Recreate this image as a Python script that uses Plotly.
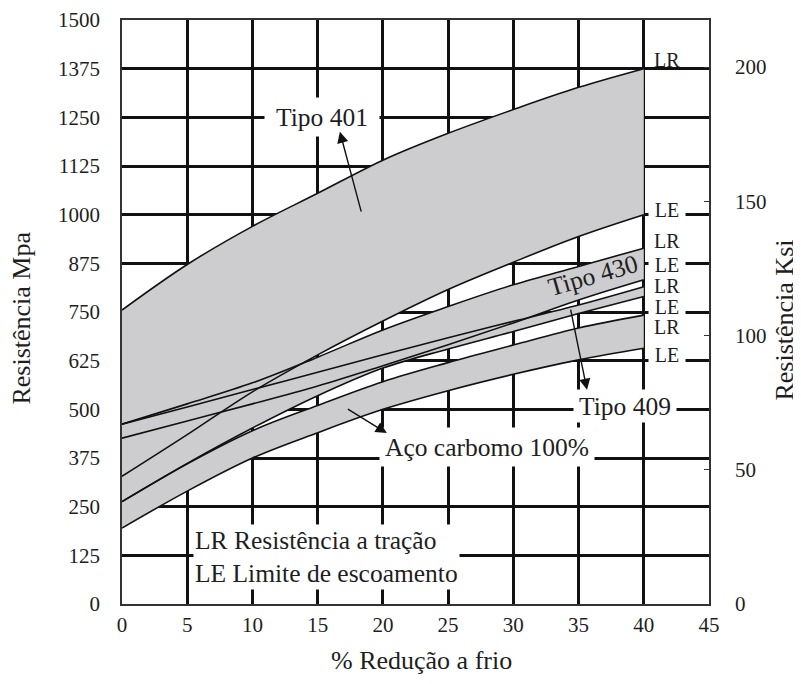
import plotly.graph_objects as go

# ---------------- data ----------------
reducao = [0, 5, 10, 15, 20, 25, 30, 35, 40]          # % redução a frio
t401_lr = [755, 872, 970, 1055, 1140, 1209, 1270, 1327, 1375]
t401_le = [328, 435, 545, 640, 727, 808, 878, 944, 1000]
t430_lr = [462, 514, 568, 634, 704, 764, 820, 867, 914]
t430_le = [426, 470, 514, 560, 612, 666, 722, 781, 833]
t409_lr = [462, 506, 551, 595, 640, 684, 726, 768, 815]
t409_le = [263, 361, 452, 535, 606, 655, 700, 746, 790]
aco_lr = [263, 360, 445, 510, 571, 620, 665, 709, 742]
aco_le = [195, 290, 375, 440, 500, 548, 590, 627, 657]

x_ticks = [0, 5, 10, 15, 20, 25, 30, 35, 40, 45]
y_ticks = [0, 125, 250, 375, 500, 625, 750, 875, 1000, 1125, 1250, 1375, 1500]
ksi_ticks = [0, 50, 100, 150, 200]
MPA_PER_KSI = 6.895

bands = [(t401_le, t401_lr), (t430_le, t430_lr), (t409_le, t409_lr), (aco_le, aco_lr)]
# (text, MPa position, white background?)
end_labels = [("LR", 1397, False), ("LE", 1012, True), ("LR", 932, False), ("LE", 873, True),
              ("LR", 816, False), ("LE", 764, True), ("LR", 712, False), ("LE", 641, True)]

FONT = "'Liberation Serif', 'Times New Roman', serif"
GRAY = "#cdcdcf"
TXT = "#1e1e1e"

fig = go.Figure()

# gray bands (fill between LE and LR)
for le, lr in bands:
    fig.add_trace(go.Scatter(x=reducao, y=le, mode="lines", line=dict(width=0, shape="spline"),
                             hoverinfo="skip", showlegend=False))
    fig.add_trace(go.Scatter(x=reducao, y=lr, mode="lines", line=dict(width=0, shape="spline"),
                             fill="tonexty", fillcolor=GRAY, hoverinfo="skip", showlegend=False))

# boundary curves on top
for ys in [t401_lr, t401_le, t430_lr, t430_le, t409_lr, t409_le, aco_lr, aco_le]:
    fig.add_trace(go.Scatter(x=reducao, y=ys, mode="lines",
                             line=dict(color="#111111", width=1.6, shape="spline"),
                             hoverinfo="skip", showlegend=False))

# invisible trace for the ksi axis
fig.add_trace(go.Scatter(x=[0], y=[0], yaxis="y2", mode="markers",
                         marker=dict(opacity=0), hoverinfo="skip", showlegend=False))

ann = []
def label(text, x, y, size=25.5, bg=None, **kw):
    d = dict(text=text, x=x, y=y, xref="x", yref="y", showarrow=False,
             xanchor="center", yanchor="middle",
             font=dict(family=FONT, size=size, color=TXT))
    if bg:
        d.update(bgcolor=bg)
    d.update(kw)
    ann.append(d)

def arrow(x0, y0, x1, y1):
    ann.append(dict(text="", x=x1, y=y1, ax=x0, ay=y0, xref="x", yref="y", axref="x", ayref="y",
                    showarrow=True, arrowhead=2, arrowsize=1.6, arrowwidth=1.4, arrowcolor="#111111"))

label("Tipo 401", 15.33, 1251, bg="white", width=112, height=36)
arrow(18.37, 1004, 16.7, 1213)
label("Tipo 430", 36.1, 845, textangle=-16)
label("Tipo 409", 38.55, 508, bg="white", width=100, height=30)
arrow(34.37, 760, 35.65, 550)
label("Aço carbomo 100%", 28.0, 404, bg="white", width=212, height=36)
arrow(17.2, 503, 20.3, 439)
label("LR Resistência a tração<br>LE Limite de escoamento", 5.45, 121,
      bg="white", xanchor="left", align="left")
for t, yv, bgw in end_labels:
    if bgw:
        label(t, 41.75, yv, size=20, bg="white", width=34, height=15)
    else:
        label(t, 41.75, yv, size=20)

# plot-area corners in window pixels (page body has an 8px margin)
L, R, T, B = 122.3, 709.3, 20, 604.3
OFF = 8
W, H = 801 - OFF, 684 - OFF

def px2paper(px, py):
    return (px - L) / (R - L), (B - py) / (B - T)

for text, px, py, ang in [("% Redução a frio", 421.5, 661, 0),
                          ("Resistência Mpa", 22, 318, -90),
                          ("Resistência Ksi", 785, 320, -90)]:
    xp, yp = px2paper(px, py)
    ann.append(dict(text=text, x=xp, y=yp, xref="paper", yref="paper", showarrow=False,
                    xanchor="center", yanchor="middle", textangle=ang,
                    font=dict(family=FONT, size=26, color=TXT)))

axis_font = dict(family=FONT, size=21, color=TXT)
fig.update_layout(
    width=W, height=H,
    margin=dict(l=L - OFF, r=W - (R - OFF), t=T - OFF, b=H - (B - OFF), autoexpand=False),
    paper_bgcolor="white", plot_bgcolor="white",
    showlegend=False,
    annotations=ann,
    xaxis=dict(range=[0, 45], tickvals=x_ticks, showgrid=True, gridcolor="#111111", gridwidth=3,
               zeroline=False, showline=True, linecolor="#333333", linewidth=1.5, mirror=True,
               ticks="", tickfont=axis_font, ticklabelstandoff=1),
    yaxis=dict(range=[0, 1500], tickvals=y_ticks, showgrid=True, gridcolor="#111111", gridwidth=3,
               zeroline=False, showline=True, linecolor="#333333", linewidth=1.5, mirror=True,
               ticks="", tickfont=axis_font, ticklabelstandoff=16),
    yaxis2=dict(range=[0, 1500 / MPA_PER_KSI], tickvals=ksi_ticks, overlaying="y", side="right",
                showgrid=False, zeroline=False, showline=False, ticks="inside", ticklen=5,
                tickwidth=1, tickcolor="#333333", tickfont=axis_font, ticklabelstandoff=25),
)

fig.write_html("out.html")
